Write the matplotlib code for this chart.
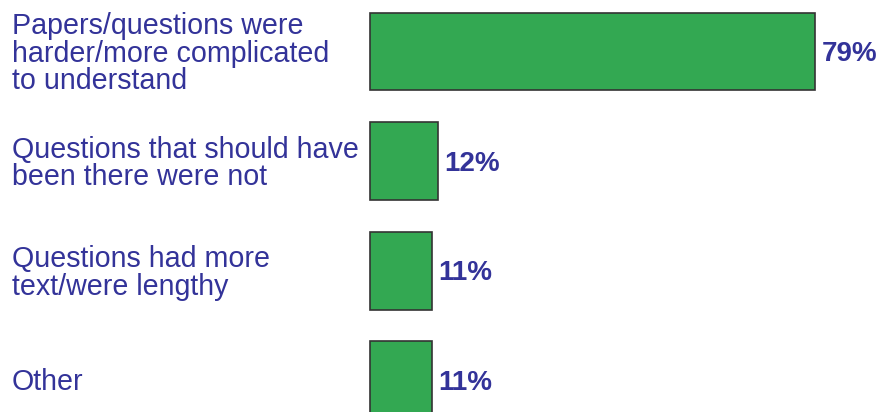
import matplotlib.pyplot as plt

labels = ["Papers/questions were\nharder/more complicated\nto understand",
          "Questions that should have\nbeen there were not",
          "Questions had more\ntext/were lengthy",
          "Other"]
values = [79, 12, 11, 11]

blue = "#333399"
green = "#33a852"

plt.rcParams['font.family'] = ['Liberation Sans', 'DejaVu Sans']

fig = plt.figure(figsize=(8.79, 4.12), dpi=100)
ax = fig.add_axes([0, 0, 1, 1])

pos = list(range(len(values)))
ax.barh(pos, values, height=0.71, color=green, edgecolor="#333333", linewidth=1.2)

for i, (lab, v) in enumerate(zip(labels, values)):
    ax.text(-63.6, i + 0.02, lab, ha="left", va="center", color=blue,
            fontsize=20.6, linespacing=0.97)
    ax.text(v + 1.2, i + 0.025, f"{v}%", ha="left", va="center", color=blue,
            fontsize=20, fontweight="bold")

# 1% ~ 5.63 px, bars start at x=370 px
ax.set_xlim(-65.7, 90.4)
ax.set_ylim(3.29, -0.47)
ax.axis("off")

fig.savefig("out.png", dpi=100)
